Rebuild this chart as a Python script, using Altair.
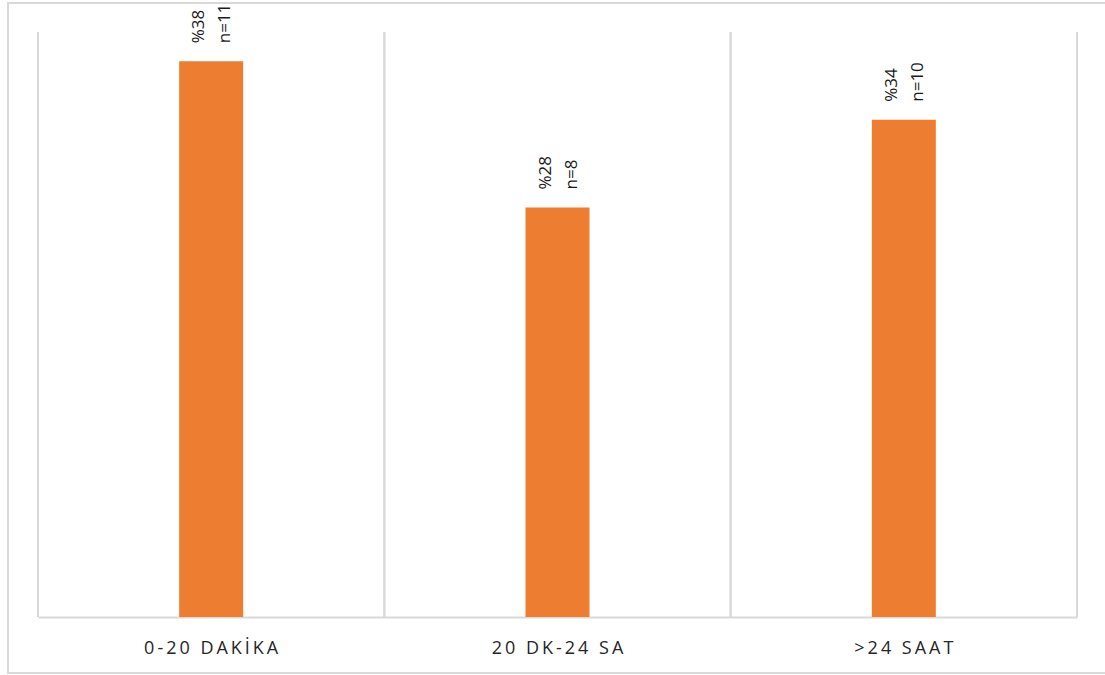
import altair as alt
import pandas as pd

categories = ["0-20 DAKİKA", "20 DK-24 SA", ">24 SAAT"]
percents = [38, 28, 34]
counts = [11, 8, 10]

TS = "\u2009"
def spaced(s):
    return TS.join(list(s))

df = pd.DataFrame({
    "cat": [spaced(c) for c in categories],
    "pct": percents,
    "n": counts,
})
df["pct_label"] = ["%" + str(p) for p in percents]
df["n_label"] = ["n=" + str(c) for c in counts]

order = list(df["cat"])
W, H = 1039, 585

x_axis = alt.Axis(title=None, labelAngle=0, ticks=False, grid=False,
                  bandPosition=0.5, labelAlign="center",
                  domainColor="#d9d9d9", domainWidth=2,
                  labelFont="Open Sans", labelFontSize=18,
                  labelColor="#262626", labelPadding=22)
x_scale = alt.Scale(paddingInner=0, paddingOuter=0)

def xenc(**kw):
    return alt.X("cat:N", sort=order, scale=x_scale, axis=x_axis, **kw)

y_enc = alt.Y("pct:Q", scale=alt.Scale(domain=[0, 40], nice=False), axis=None)

base = alt.Chart(df)

bars = base.mark_bar(color="#ED7D31", size=64).encode(x=xenc(), y=y_enc)

frame = base.mark_rect(fill=None, stroke="#d9d9d9", strokeWidth=1.5).encode(
    x=alt.value(-30), x2=alt.value(1090), y=alt.value(-29), y2=alt.value(641)
)

grid_left = base.mark_rule(color="#d9d9d9", strokeWidth=2).encode(
    x=xenc(bandPosition=0)
)
grid_right = base.mark_rule(color="#d9d9d9", strokeWidth=2).encode(
    x=xenc(bandPosition=1)
)

pct_text = base.mark_text(angle=270, align="left", baseline="middle",
                          dx=18, dy=-12, font="Open Sans", fontSize=17,
                          color="#1a1a1a").encode(
    x=xenc(), y=y_enc, text="pct_label:N")
n_text = base.mark_text(angle=270, align="left", baseline="middle",
                        dx=18, dy=14, font="Open Sans", fontSize=17,
                        color="#1a1a1a").encode(
    x=xenc(), y=y_enc, text="n_label:N")

chart = alt.layer(bars, frame, grid_left, grid_right, pct_text, n_text).properties(
    width=W, height=H,
    autosize=alt.AutoSizeParams(type="none"),
    padding={"left": 38, "top": 32, "right": 28, "bottom": 58},
    background="white",
).configure_view(stroke=None)

chart.save("out.html", embed_options={"renderer": "svg", "actions": False})
